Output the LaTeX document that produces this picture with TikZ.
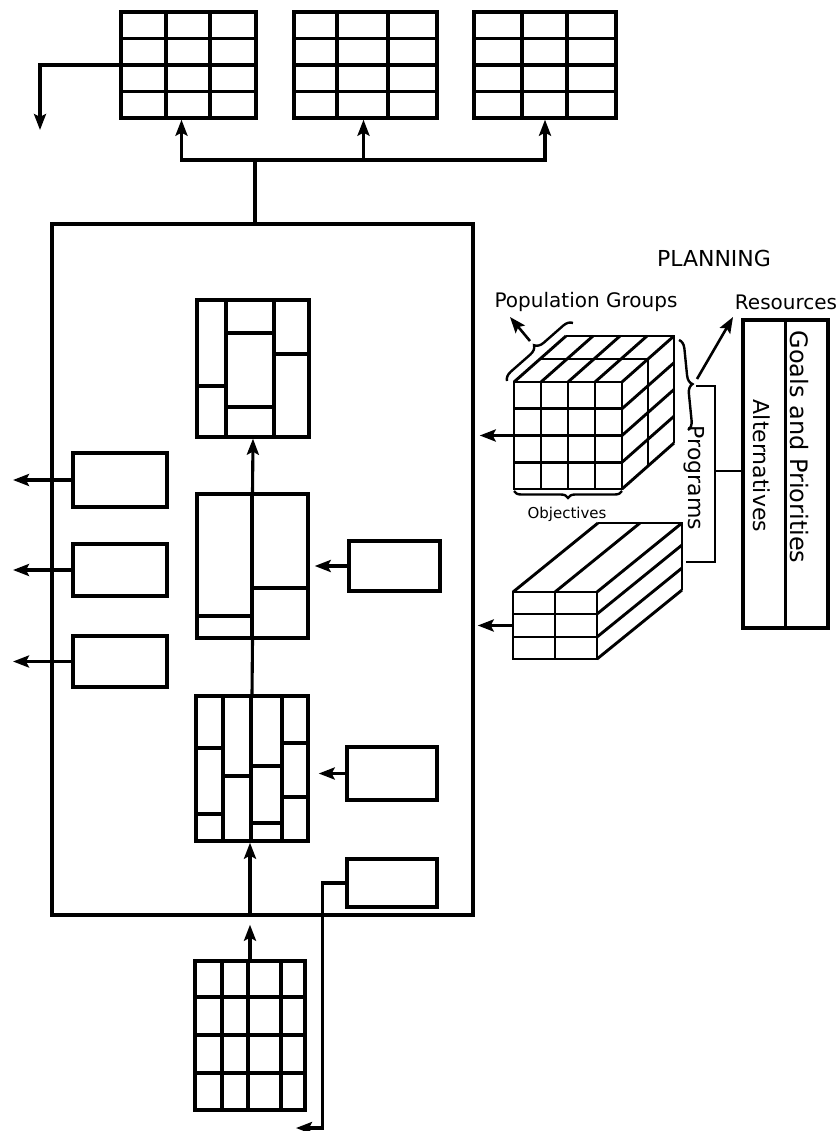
\documentclass[tikz,border=0pt]{standalone}
\usepackage{fontspec}
\setmainfont{DejaVu Sans}
\usepackage{tikz}
\usetikzlibrary{arrows.meta, positioning, calc, decorations.pathreplacing}
\tikzset{
    panel/.style={draw, rectangle, line width=3.4pt, inner sep=0pt},
    gridline/.style={line width=3.3pt},
    cubeline/.style={line width=2.9pt},
    plainline/.style={line width=3.1pt},
    thinline/.style={line width=2.6pt},
    flowarrow/.style={-{Stealth[length=16pt, width=12pt, inset=3pt]}, line width=3.1pt},
    curly/.style={decorate, decoration={brace, amplitude=9pt}, line width=2.4pt},
    tagtext/.style={font=\fontsize{20}{22}\selectfont, inner sep=0pt},
    sidetext/.style={font=\fontsize{22}{24}\selectfont, rotate=-90, inner sep=0pt},
}

\begin{document}
\begin{tikzpicture}[x=1pt, y=-1pt]
    \useasboundingbox (0,0) rectangle (839,1131);

    % Output tables
    \foreach \tname/\tx/\tw/\ca/\cb in {out1/188.5/135/166/210, out2/365.5/143/337/388, out3/545/142/522/567} {
        \node[panel, minimum width=\tw, minimum height=106] (\tname) at (\tx,65) {};
        \foreach \gx in {\ca,\cb} \draw[gridline] (\gx,12) -- (\gx,118);
        \foreach \gy in {38.5,65,91.5} \draw[gridline] (\tname.west |- 0,\gy) -- (\tname.east |- 0,\gy);
    }
    \coordinate (drop) at (40,130);
    \draw[flowarrow] (out1.west) -| (drop);

    % System box
    \node[panel, minimum width=421, minimum height=691] (mainbox) at (262.5,569.5) {};
    \coordinate (hub) at (255,160);
    \draw[plainline] (mainbox.north -| hub) -- (hub);
    \draw[flowarrow] (hub) -| ([xshift=-7]out1.south);
    \draw[flowarrow] (hub) -| ([xshift=-2]out2.south);
    \draw[flowarrow] (hub) -| (out3.south);

    % Stages
    \node[panel, minimum width=112, minimum height=137] (stagetop) at (253,368.5) {};
    \draw[gridline] (226,300) -- (226,437);
    \draw[gridline] (274,300) -- (274,437);
    \draw[gridline] (197,386) -- (226,386);
    \draw[gridline] (226,333) -- (274,333);
    \draw[gridline] (226,407) -- (274,407);
    \draw[gridline] (274,354) -- (309,354);

    \node[panel, minimum width=111, minimum height=144] (stagemid) at (252.5,566) {};
    \draw[gridline] (252,494) -- (252,638);
    \draw[gridline] (252,588) -- (308,588);
    \draw[gridline] (197,616) -- (252,616);

    \node[panel, minimum width=112, minimum height=145] (stagebot) at (252,768.5) {};
    \foreach \gx in {223,251,282} \draw[gridline] (\gx,696) -- (\gx,841);
    \draw[gridline] (196,748) -- (223,748);
    \draw[gridline] (196,814) -- (223,814);
    \draw[gridline] (223,776) -- (251,776);
    \draw[gridline] (251,766) -- (282,766);
    \draw[gridline] (253,823) -- (280,823);
    \draw[gridline] (282,743) -- (308,743);
    \draw[gridline] (282,797) -- (308,797);

    \draw[flowarrow] (stagemid.north) -- (stagetop.south);
    \draw[plainline] (stagebot.north) -- (stagemid.south);

    % Feeding boxes
    \node[panel, minimum width=91, minimum height=50] (feedmid) at (394.5,566) {};
    \draw[flowarrow, shorten >=5pt] (feedmid.west) -- (feedmid.west -| stagemid.east);
    \node[panel, minimum width=90, minimum height=53] (feedbot) at (392,773.5) {};
    \draw[flowarrow, shorten >=9pt] (feedbot.west) -- (feedbot.west -| stagebot.east);
    \node[panel, minimum width=90, minimum height=48] (exitbox) at (392,883) {};
    \coordinate (exitend) at (296,1128);
    \draw[flowarrow] (exitbox.west) -- ++(-23,0) |- (exitend);

    % Reports
    \foreach \lname/\ly/\lh in {report1/480/54, report2/570/52, report3/661.5/51} {
        \node[panel, minimum width=94, minimum height=\lh] (\lname) at (120,\ly) {};
        \coordinate (\lname-out) at (13,\ly);
        \draw[flowarrow] (\lname.west) -- (\lname-out);
    }

    % Input table
    \node[panel, minimum width=110, minimum height=149] (source) at (250,1035.5) {};
    \foreach \gx in {222,248,281} \draw[gridline] (\gx,961) -- (\gx,1110);
    \foreach \gy in {997,1035,1073} \draw[gridline] (195,\gy) -- (305,\gy);
    \draw[flowarrow, shorten >=8pt] (source.north) -- (source.north |- mainbox.south);
    \draw[flowarrow] (source.north |- mainbox.south) -- (stagebot.south -| source.north);

    % Planning cube
    \node[panel, line width=2.9pt, minimum width=108, minimum height=107] (cube) at (568,435.5) {};
    \foreach \i in {1,2,3} {
        \draw[cubeline] (514+27*\i,382) -- (514+27*\i,489);
        \draw[cubeline] (514,382+26.75*\i) -- (622,382+26.75*\i);
    }
    \foreach \i in {0,...,4} \draw[cubeline] (514+27*\i,382) -- ++(52,-46);
    \foreach \k in {1,2} \draw[cubeline] (514+26*\k,382-23*\k) -- ++(108,0) -- ++(0,107);
    \foreach \i in {1,...,4} \draw[cubeline] (622,382+26.75*\i) -- ++(52,-46);
    \draw[flowarrow, shorten >=5pt] (cube.west) -- (cube.west -| mainbox.east);

    % Program slab
    \node[panel, line width=2.9pt, minimum width=84, minimum height=67] (slab) at (555,625.5) {};
    \draw[cubeline] (555,592) -- (555,659);
    \foreach \gy in {614,637} \draw[cubeline] (513,\gy) -- (597,\gy);
    \foreach \gx in {513,555,597} \draw[cubeline] (\gx,592) -- ++(85,-69);
    \draw[cubeline] (598,523) -- (682,523) -- (682,590);
    \foreach \gy in {614,637,659} \draw[cubeline] (597,\gy) -- ++(85,-69);
    \draw[flowarrow, shorten >=3pt] (slab.west) -- (slab.west -| mainbox.east);

    % Labels and braces
    \node[tagtext, font=\fontsize{22}{24}\selectfont] (planning) at (714,258) {PLANNING};
    \node[tagtext] (popgroups) at (586,302) {Population Groups};
    \node[tagtext] (resources) at (786,302) {Resources};
    \node[tagtext, font=\fontsize{15}{17}\selectfont] (objectives) at (567,514) {Objectives};

    \draw[curly] (507,381) -- (573,323);
    \coordinate (poptip) at (530,341);
    \coordinate (poparrow) at (510,317);
    \draw[flowarrow, line width=2.6pt] (poptip) -- (poparrow);

    \draw[curly] (679,340) -- (688,430);
    \coordinate (restip) at (697,379);
    \coordinate (resarrow) at (733,317);
    \draw[flowarrow, line width=2.6pt] (restip) -- (resarrow);

    \draw[curly, decoration={amplitude=7pt}] (622,491) -- (514,491);

    % Alternatives and goals
    \node[panel, minimum width=85, minimum height=308] (options) at (785.5,474) {};
    \draw[plainline] (options.north) -- (options.south);
    \node[sidetext] (alttext) at (762,466) {Alternatives};
    \node[sidetext, font=\fontsize{24}{26}\selectfont] (goaltext) at (799,447) {Goals and Priorities};
    \node[sidetext] (programs) at (694,478) {Programs};

    \coordinate (progtop) at (696,386);
    \coordinate (progjoin) at (715,471);
    \coordinate (progbot) at (686,562);
    \draw[thinline] (progtop) -| (progjoin) |- (progbot);
    \draw[thinline] (progjoin) -- (options.west |- progjoin);
\end{tikzpicture}
\end{document}
